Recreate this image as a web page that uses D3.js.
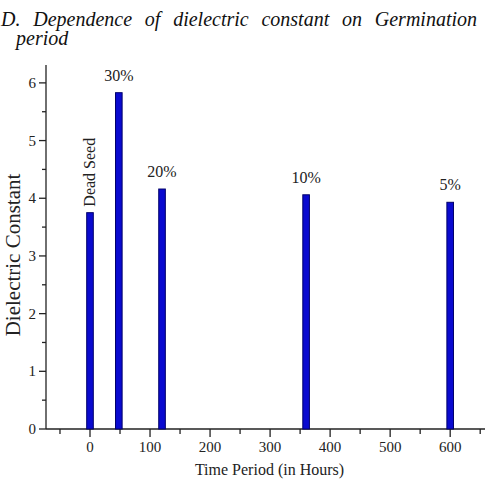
<!DOCTYPE html>
<html>
<head>
<meta charset="utf-8">
<script src="https://cdn.jsdelivr.net/npm/d3@7"></script>
<style>
  body { margin: 0; background: #fff; }
  svg { display: block; }
  text { font-family: "Liberation Serif", "Times New Roman", serif; fill: #222; }
</style>
</head>
<body>
<div id="chart"></div>
<script>
// germination data
const hours = [0, 48, 120, 360, 600];
const dielectric = [3.75, 5.83, 4.16, 4.06, 3.93];
const barLabels = ["Dead Seed", "30%", "20%", "10%", "5%"];
const xTicks = [0, 100, 200, 300, 400, 500, 600];
const yTicks = [0, 1, 2, 3, 4, 5, 6];
const titleWords = ["D.", "Dependence", "of", "dielectric", "constant", "on", "Germination"];

const W = 492, H = 482;
const margin = {top: 65, right: 7, bottom: 53, left: 46};

const svg = d3.select("#chart").append("svg")
    .attr("width", W)
    .attr("height", H);

// title, first line justified by hand
let titleG = svg.append("g").attr("font-style", "italic").attr("font-size", 20);
let words = titleG.selectAll("text").data(titleWords).enter()
    .append("text")
    .attr("y", 26)
    .style("font-style", "italic")
    .style("fill", "#111")
    .text(d => d);
let widths = [];
words.each(function(){ widths.push(this.getComputedTextLength()); });
let total = d3.sum(widths);
let gap = (477 - 1 - total) / (titleWords.length - 1);
let cx = 1;
words.attr("x", function(d, i){ let p = cx; cx += widths[i] + gap; return p; });
titleG.append("text")
    .attr("x", 16).attr("y", 45)
    .style("font-style", "italic")
    .style("fill", "#111")
    .text("period");

const x = d3.scaleLinear()
    .domain([-73.3, 658])
    .range([margin.left, W - margin.right]);
const y = d3.scaleLinear()
    .domain([0, 6.31])
    .range([H - margin.bottom, margin.top]);

const x0 = H - margin.bottom;

// axes
const xAxis = svg.append("g").attr("transform", `translate(0, ${x0})`);
xAxis.append("line")
    .attr("x1", margin.left).attr("x2", W - margin.right)
    .attr("stroke", "#222").attr("stroke-width", 1.3);
let xMinor = d3.range(-50, 651, 50);
xAxis.selectAll(".xt").data(xMinor).enter().append("line")
    .attr("x1", d => x(d)).attr("x2", d => x(d))
    .attr("y1", 0).attr("y2", d => d % 100 === 0 ? 8 : 5)
    .attr("stroke", "#222").attr("stroke-width", 1.3);
xAxis.selectAll(".xl").data(xTicks).enter().append("text")
    .attr("x", d => x(d)).attr("y", 23)
    .attr("text-anchor", "middle")
    .attr("font-size", 15)
    .text(d => d);

const yAxis = svg.append("g").attr("transform", `translate(${margin.left}, 0)`);
yAxis.append("line")
    .attr("y1", y(0)).attr("y2", margin.top)
    .attr("stroke", "#222").attr("stroke-width", 1.3);
let yMinor = d3.range(0, 12.5, 1).map(d => d / 2);
yAxis.selectAll(".yt").data(yMinor).enter().append("line")
    .attr("y1", d => y(d)).attr("y2", d => y(d))
    .attr("x1", 0).attr("x2", d => d % 1 === 0 ? -7 : -4)
    .attr("stroke", "#222").attr("stroke-width", 1.3);
yAxis.selectAll(".yl").data(yTicks).enter().append("text")
    .attr("x", -10).attr("y", d => y(d) + 5)
    .attr("text-anchor", "end")
    .attr("font-size", 15)
    .text(d => d);

// axis titles
svg.append("text")
    .attr("x", (x(-73.3) + x(658)) / 2 + 4).attr("y", 475)
    .attr("text-anchor", "middle")
    .attr("font-size", 16)
    .text("Time Period (in Hours)");
svg.append("text")
    .attr("transform", `translate(20, ${(y(0) + y(6.31)) / 2 + 8}) rotate(-90)`)
    .attr("text-anchor", "middle")
    .attr("font-size", 21)
    .text("Dielectric Constant");

// bars
let bw = x(5.5) - x(-5.5);
let bars = hours.map((h, i) => ({h: h, v: dielectric[i], label: barLabels[i]}));
svg.selectAll(".bar").data(bars).enter().append("rect")
    .attr("class", "bar")
    .attr("x", d => x(d.h) - bw / 2)
    .attr("width", bw)
    .attr("y", d => y(d.v))
    .attr("height", d => y(0) - y(d.v))
    .attr("fill", "#0a0ad0")
    .attr("stroke", "#00006a")
    .attr("stroke-width", 1);

// bar labels
svg.selectAll(".blab").data(bars.filter(d => d.label !== "Dead Seed")).enter().append("text")
    .attr("class", "blab")
    .attr("x", d => x(d.h))
    .attr("y", d => y(d.v) - 12)
    .attr("text-anchor", "middle")
    .attr("font-size", 16)
    .text(d => d.label);
let dead = bars[0];
svg.append("text")
    .attr("transform", `translate(${x(dead.h) + 5}, ${y(dead.v) - 6}) rotate(-90)`)
    .attr("font-size", 16)
    .text(dead.label);
</script>
</body>
</html>
